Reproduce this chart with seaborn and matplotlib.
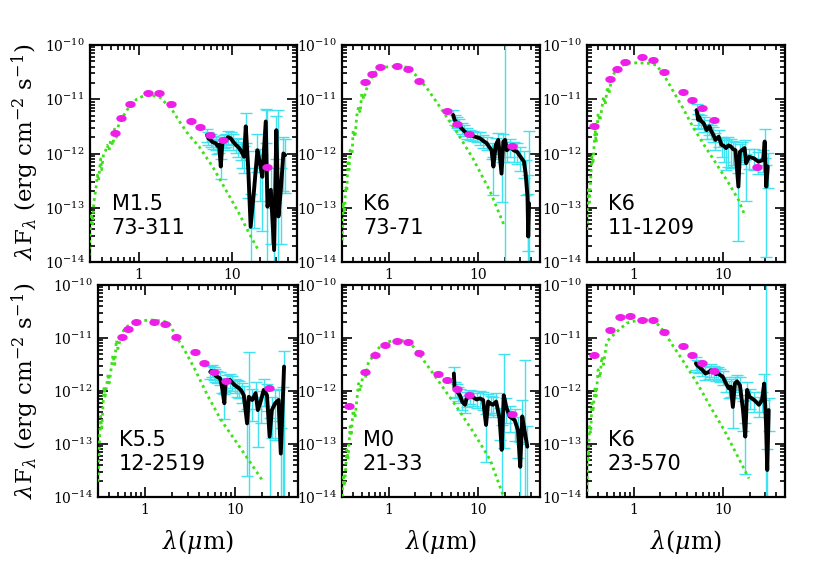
import numpy as np
import matplotlib
matplotlib.use("Agg")
import matplotlib.pyplot as plt
from matplotlib.path import Path
from matplotlib.ticker import LogLocator, NullFormatter, FixedLocator
import seaborn as sns

# ---- photometry wavelengths (micron) and log10 lambda*F_lambda
p1_phot_wl = [0.55, 0.65, 0.80, 1.25, 1.65, 2.2, 3.6, 4.5, 5.8, 8.0, 24.0]
p1_phot_lf = [-11.63, -11.34, -11.09, -10.89, -10.89, -11.09, -11.41, -11.52, -11.65, -11.76, -12.24]
p2_phot_wl = [0.55, 0.65, 0.80, 1.25, 1.65, 2.2, 4.5, 5.8, 8.0, 24.0]
p2_phot_lf = [-10.68, -10.54, -10.40, -10.38, -10.44, -10.66, -11.21, -11.46, -11.64, -11.86]
p3_phot_wl = [0.36, 0.55, 0.65, 0.80, 1.25, 1.65, 2.2, 3.6, 4.5, 5.8, 8.0, 24.0]
p3_phot_lf = [-11.49, -10.63, -10.45, -10.31, -10.23, -10.28, -10.49, -10.87, -11.02, -11.17, -11.38, -12.24]
p4_phot_wl = [0.55, 0.65, 0.80, 1.25, 1.65, 2.2, 3.6, 4.5, 5.8, 8.0, 24.0]
p4_phot_lf = [-10.98, -10.83, -10.70, -10.69, -10.74, -10.99, -11.27, -11.47, -11.65, -11.81, -11.95]
p5_phot_wl = [0.36, 0.55, 0.70, 0.90, 1.25, 1.65, 2.2, 3.6, 4.5, 5.8, 8.0, 24.0]
p5_phot_lf = [-12.28, -11.64, -11.33, -11.13, -11.06, -11.07, -11.29, -11.67, -11.79, -11.97, -12.08, -12.44]
p6_phot_wl = [0.36, 0.55, 0.70, 0.90, 1.25, 1.65, 2.2, 3.6, 4.5, 5.8, 8.0]
p6_phot_lf = [-11.33, -10.85, -10.60, -10.58, -10.66, -10.66, -10.89, -11.15, -11.32, -11.48, -11.62]

# ---- photosphere models (green dotted)
p1_mod_wl = [0.29, 0.30, 0.31, 0.32, 0.33, 0.35, 0.36, 0.37, 0.39, 0.40, 0.42, 0.44, 0.46, 0.48,
             0.50, 0.53, 0.55, 0.58, 0.61, 0.66, 0.72, 0.78, 0.85, 0.95, 1.09, 1.25, 1.39, 1.55,
             1.71, 1.94, 2.29, 2.81, 3.45, 4.43, 6.2, 8.6, 11.9, 15.3, 18.8]
p1_mod_lf = [-14.0, -13.5, -13.1, -13.3, -12.9, -12.6, -12.4, -12.5, -12.1, -12.3, -12.0, -11.95, -11.85, -11.95,
             -11.75, -11.85, -11.55, -11.7, -11.45, -11.35, -11.25, -11.15, -11.08, -11.0, -10.95, -10.92, -10.93, -10.95,
             -10.97, -11.07, -11.2, -11.44, -11.66, -11.87, -12.24, -12.67, -13.1, -13.47, -13.75]
p2_mod_wl = [0.30, 0.31, 0.32, 0.33, 0.34, 0.35, 0.36, 0.37, 0.39, 0.40, 0.42, 0.44, 0.46, 0.48,
             0.50, 0.53, 0.55, 0.59, 0.68, 0.87, 1.23, 1.63, 2.09, 2.7, 3.8, 5.8, 8.9, 13.8, 19.5]
p2_mod_lf = [-13.6, -12.9, -13.1, -12.6, -12.7, -12.12, -12.3, -11.94, -12.0, -11.57, -11.7, -11.3, -11.14, -11.25,
             -10.89, -11.0, -10.86, -10.74, -10.52, -10.41, -10.39, -10.41, -10.58, -10.8, -11.15, -11.6, -12.1, -12.7, -13.3]
p3_mod_wl = [0.30, 0.305, 0.31, 0.32, 0.34, 0.35, 0.37, 0.38, 0.40, 0.42, 0.46, 0.48, 0.51, 0.53,
             0.57, 0.66, 0.84, 1.19, 1.53, 1.8, 2.18, 2.8, 3.6, 4.6, 6.0, 8.4, 11.7, 15.1, 17.9]
p3_mod_lf = [-13.41, -12.9, -12.67, -12.9, -12.06, -12.2, -11.57, -11.8, -11.26, -11.4, -10.95, -11.1, -10.77, -10.9,
             -10.58, -10.43, -10.33, -10.33, -10.34, -10.37, -10.55, -10.86, -11.17, -11.5, -11.81, -12.18, -12.55, -12.86, -13.16]
p4_mod_wl = [0.30, 0.305, 0.31, 0.32, 0.33, 0.35, 0.36, 0.39, 0.40, 0.44, 0.46, 0.48, 0.50, 0.55,
             0.62, 0.74, 0.97, 1.26, 1.64, 1.86, 2.11, 2.75, 3.6, 5.0, 7.0, 9.9, 14.1, 20.0]
p4_mod_lf = [-13.71, -13.3, -13.05, -12.48, -12.7, -11.92, -12.1, -11.67, -11.85, -11.32, -11.5, -11.04, -11.2, -10.91,
             -10.79, -10.71, -10.67, -10.66, -10.69, -10.72, -10.91, -11.23, -11.6, -12.1, -12.55, -12.92, -13.3, -13.68]
p5_mod_wl = [0.30, 0.31, 0.32, 0.34, 0.35, 0.37, 0.38, 0.40, 0.42, 0.46, 0.48, 0.52, 0.55,
             0.59, 0.68, 0.80, 1.0, 1.35, 1.75, 2.1, 2.7, 3.8, 5.8, 8.9, 13.8, 19.5]
p5_mod_lf = [-13.99, -13.62, -13.8, -13.11, -13.3, -12.67, -12.85, -12.36, -12.5, -11.86, -12.0, -11.67, -11.75,
             -11.48, -11.32, -11.16, -11.07, -11.04, -11.09, -11.26, -11.51, -11.86, -12.3, -12.77, -13.3, -13.99]
p6_mod_wl = [0.30, 0.305, 0.31, 0.32, 0.33, 0.34, 0.35, 0.37, 0.38, 0.40, 0.42, 0.44, 0.46, 0.50,
             0.57, 0.68, 0.84, 1.09, 1.41, 1.76, 2.19, 2.8, 3.65, 5.2, 7.3, 10.4, 14.8, 19.7]
p6_mod_lf = [-13.9, -13.11, -13.3, -12.67, -12.8, -12.23, -12.4, -11.92, -12.1, -11.6, -11.75, -11.35, -11.5, -11.07,
             -10.97, -10.85, -10.72, -10.67, -10.66, -10.69, -10.88, -11.16, -11.45, -11.86, -12.3, -12.74, -13.24, -13.65]

# ---- IRS spectra (black) with fractional lower / upper errors (cyan)
p1_irs_wl = [5.4, 5.6, 5.9, 6.2, 6.7, 7.0, 7.3, 7.6, 7.9, 8.2, 8.6, 9.1, 9.7, 10.3, 11.0, 11.7, 12.4, 13.0,
             13.5, 14.1, 15.0, 15.9, 17.3, 18.8, 20.0, 21.2, 23.1, 24.1, 26.2, 28.4, 30.0, 31.6, 33.5, 35.7, 37.3]
p1_irs_lf = [-11.66, -11.72, -11.75, -11.79, -11.81, -11.86, -11.84, -12.24, -11.81, -11.78, -11.75, -11.70,
             -11.72, -11.78, -11.84, -11.88, -11.94, -12.0, -12.06, -11.5, -12.3, -13.35, -12.67, -11.94, -12.18,
             -12.43, -11.41, -12.98, -12.67, -13.78, -11.57, -13.16, -12.67, -12.0, -12.03]
p1_irs_lo = [.25, .25, .25, .25, .25, .3, .3, .4, .25, .25, .25, .25, .25, .3, .3, .35, .35, .45, .5, .5, .7,
             1.0, .8, .6, .8, .9, .6, 1.0, .9, 1.0, .7, 1.0, .9, .8, .8]
p1_irs_hi = [.3, .3, .3, .3, .3, .3, .3, .4, .3, .3, .3, .3, .3, .35, .35, .4, .4, .5, .6, .8, 1.2,
             3.0, 1.5, 1.0, .8, 1.5, .7, 60, 1.5, 5, .8, 90, 1.5, 1.0, 1.0]

p2_irs_wl = [5.3, 5.5, 5.8, 6.1, 6.6, 7.0, 7.5, 8.2, 8.9, 9.7, 10.6, 11.6, 12.6, 14.3, 15.0, 15.9, 17.0, 18.5,
             19.4, 20.3, 21.2, 23.2, 25.3, 27.7, 30.2, 33.0, 34.5, 36.2, 36.9, 37.7]
p2_irs_lf = [-11.29, -11.38, -11.43, -11.47, -11.54, -11.58, -11.63, -11.66, -11.68, -11.70, -11.72, -11.77,
             -11.81, -11.94, -12.24, -11.85, -11.75, -12.37, -11.78, -11.75, -11.94, -11.88, -11.94, -11.97,
             -12.06, -12.15, -12.37, -12.8, -13.53, -12.92]
p2_irs_lo = [.2, .2, .2, .2, .2, .2, .2, .2, .2, .2, .25, .25, .25, .3, .7, .3, .3, .7, .3, 1.0, .4, .35, .4,
             .4, .45, .5, .6, .9, 1.0, 1.0]
p2_irs_hi = [.25, .25, .25, .25, .25, .25, .25, .25, .25, .25, .3, .3, .3, .35, .5, .35, .35, .6, .4, 500, .4,
             .4, .4, .45, .5, .6, .8, 1.5, 5, 21]

p3_irs_wl = [5.1, 5.3, 5.4, 5.7, 6.1, 6.6, 7.1, 7.4, 7.7, 8.3, 9.0, 9.7, 10.3, 10.9, 11.6, 12.3, 13.1, 13.9,
             15.0, 15.6, 16.6, 17.6, 18.3, 19.8, 22.4, 25.2, 28.4, 29.6, 30.8, 32.0]
p3_irs_lf = [-11.2, -11.38, -11.32, -11.40, -11.44, -11.57, -11.5, -11.58, -11.63, -11.75, -11.69, -11.84,
             -11.86, -11.9, -11.85, -11.87, -11.92, -11.94, -12.61, -11.97, -11.93, -11.9, -12.18, -12.06,
             -12.09, -12.15, -12.12, -11.78, -12.61, -12.24]
p3_irs_lo = [.3, .3, .3, .3, .3, .3, .3, .3, .3, .35, .35, .4, .5, .6, .6, .6, .5, .5, .9, .4, .4, .4, .8, .4,
             .4, .4, .4, .5, .95, .6]
p3_irs_hi = [.3, .3, .3, .3, .3, .3, .3, .3, .3, .35, .35, .4, .4, .4, .4, .4, .4, .4, .8, .4, .4, .4, .5, .4,
             .5, .5, .5, .7, 1.5, .8]

p4_irs_wl = [5.3, 5.5, 5.8, 6.0, 6.3, 6.8, 7.1, 7.6, 7.8, 8.2, 8.7, 9.3, 9.9, 10.5, 11.1, 11.8, 12.5, 13.6,
             14.2, 15.5, 16.9, 17.9, 19.2, 20.8, 22.6, 24.2, 25.6, 27.9, 30.4, 32.2, 33.8, 35.0]
p4_irs_lf = [-11.64, -11.62, -11.67, -11.70, -11.73, -11.76, -11.89, -12.23, -11.86, -11.82, -11.79, -11.84,
             -11.89, -11.92, -11.95, -12.0, -12.08, -12.61, -12.11, -12.17, -12.04, -12.36, -12.2, -11.98,
             -12.08, -12.86, -12.36, -12.23, -12.17, -13.18, -12.23, -11.54]
p4_irs_lo = [.25, .25, .25, .25, .25, .25, .3, .5, .3, .3, .3, .3, .3, .35, .35, .4, .5, .9, 1.0, .6, .5, .8,
             .6, .5, .5, .95, .7, .8, .6, 1.0, 1.0, 1.0]
p4_irs_hi = [.3, .3, .3, .3, .3, .3, .3, .5, .3, .3, .3, .3, .3, .35, .4, .4, .5, .9, 6, .6, .6, .8,
             .6, .6, .6, 1.2, .8, .8, .6, 2, 1.0, 1.0]

p5_irs_wl = [5.4, 5.5, 5.8, 6.0, 6.3, 6.7, 7.2, 7.5, 8.2, 8.9, 9.7, 10.6, 11.5, 12.4, 13.1, 14.0, 14.8, 16.1,
             17.6, 18.6, 19.6, 20.9, 22.8, 26.0, 28.3, 30.0, 31.6, 33.5, 36.0]
p5_irs_lf = [-11.67, -11.95, -11.98, -12.03, -12.08, -12.2, -12.26, -12.14, -12.09, -12.12, -12.16, -12.14,
             -12.17, -12.64, -12.2, -12.24, -12.26, -12.2, -12.52, -13.11, -12.08, -12.3, -12.48, -12.55,
             -12.74, -13.43, -12.48, -12.74, -13.05]
p5_irs_lo = [.3, .3, .3, .3, .3, .3, .3, .3, .3, .3, .3, .35, .35, .8, .4, .4, .4, .4, .6, 1.0, .9, .5, .5,
             .6, .7, 1.0, .7, 1.0, .9]
p5_irs_hi = [.3, .3, .3, .3, .3, .3, .3, .3, .3, .3, .3, .4, .4, .6, .4, .4, .4, .45, .6, 2, 5, .5, .6,
             .6, .8, 2, 1.0, 20, 1.5]

p6_irs_wl = [5.0, 5.2, 5.4, 5.9, 6.4, 7.0, 7.4, 7.9, 8.4, 8.9, 9.4, 10.0, 10.9, 11.7, 12.3, 13.0, 13.7, 14.5,
             15.6, 16.9, 17.9, 18.8, 20.0, 22.6, 25.5, 27.6, 29.2, 30.6, 31.6, 32.8]
p6_irs_lf = [-11.48, -11.52, -11.54, -11.6, -11.67, -11.64, -11.61, -11.64, -11.68, -11.67, -11.70, -11.73,
             -11.86, -11.95, -11.92, -12.3, -11.86, -11.82, -11.89, -12.36, -12.86, -11.98, -12.11, -12.17,
             -12.26, -12.17, -11.86, -12.61, -13.49, -12.36]
p6_irs_lo = [.25, .25, .25, .25, .25, .25, .25, .25, .25, .25, .25, .3, .3, .35, .35, .6, .3, .3, .35, .6,
             .8, .35, .4, .4, .4, .4, .5, 1.0, .8, .6]
p6_irs_hi = [.3, .3, .3, .3, .3, .3, .3, .3, .3, .3, .3, .3, .35, .4, .4, .5, .35, .35, .4, .5,
             .8, .4, .4, .4, .4, .4, .5, 1000, 1.5, .7]

labels = ["M1.5\n73-311", "K6\n73-71", "K6\n11-1209", "K5.5\n12-2519", "M0\n21-33", "K6\n23-570"]

# axes boxes in pixels: left, right, top, bottom
boxes = [(90, 297, 45, 262), (342, 540, 45, 262), (587, 785, 45, 262),
         (98, 298, 285, 497), (342, 540, 285, 497), (587, 785, 285, 497)]

panels = [
    (p1_phot_wl, p1_phot_lf, p1_mod_wl, p1_mod_lf, p1_irs_wl, p1_irs_lf, p1_irs_lo, p1_irs_hi),
    (p2_phot_wl, p2_phot_lf, p2_mod_wl, p2_mod_lf, p2_irs_wl, p2_irs_lf, p2_irs_lo, p2_irs_hi),
    (p3_phot_wl, p3_phot_lf, p3_mod_wl, p3_mod_lf, p3_irs_wl, p3_irs_lf, p3_irs_lo, p3_irs_hi),
    (p4_phot_wl, p4_phot_lf, p4_mod_wl, p4_mod_lf, p4_irs_wl, p4_irs_lf, p4_irs_lo, p4_irs_hi),
    (p5_phot_wl, p5_phot_lf, p5_mod_wl, p5_mod_lf, p5_irs_wl, p5_irs_lf, p5_irs_lo, p5_irs_hi),
    (p6_phot_wl, p6_phot_lf, p6_mod_wl, p6_mod_lf, p6_irs_wl, p6_irs_lf, p6_irs_lo, p6_irs_hi),
]

sns.set_style("ticks")
plt.rcParams["font.family"] = ["DejaVu Serif"]
plt.rcParams["mathtext.fontset"] = "dejavuserif"
for key in ["axes.edgecolor", "xtick.color", "ytick.color", "text.color", "axes.labelcolor"]:
    plt.rcParams[key] = "black"

W, H = 830, 586
fig = plt.figure(figsize=(W / 100, H / 100), dpi=100)

t = np.linspace(0, 2 * np.pi, 30)
ellipse = Path(np.column_stack([np.cos(t), 0.62 * np.sin(t)]))

green = "#3ee01a"
magenta = "#ee1ee8"
cyan = "#3fe3ef"

for i, (box, pan, lab) in enumerate(zip(boxes, panels, labels)):
    l, r, tp, bt = box
    ax = fig.add_axes([l / W, 1 - bt / H, (r - l) / W, (bt - tp) / H])
    ax.set_xscale("log")
    ax.set_yscale("log")
    ax.set_xlim(0.3, 50)
    ax.set_ylim(1e-14, 1e-10)

    pw, pf, mw, mf, sw, sf, slo, shi = pan
    pf = 10 ** np.array(pf)
    mf = 10 ** np.array(mf)
    sf = 10 ** np.array(sf)

    ax.errorbar(sw, sf, yerr=[sf * np.array(slo), sf * np.array(shi)], fmt="none",
                ecolor=cyan, elinewidth=1.0, capsize=4, capthick=1.0, zorder=1)
    sns.lineplot(x=sw, y=sf, ax=ax, color="black", lw=2.8, estimator=None, sort=False, zorder=2)
    sns.lineplot(x=mw, y=mf, ax=ax, color=green, lw=2.0, linestyle=(0, (1, 1.3)),
                 estimator=None, sort=False, zorder=3)
    ax.plot(pw, pf, ls="none", marker=ellipse, ms=6.5, color=magenta, mec=magenta, zorder=4)

    ax.text(0.105, 0.11, lab, transform=ax.transAxes, fontsize=15, ha="left", va="bottom",
            linespacing=1.25, family="DejaVu Sans")

    ax.set_xticks([1, 10], ["1", "10"])
    ax.xaxis.set_minor_locator(LogLocator(base=10, subs=np.arange(2, 10)))
    ax.xaxis.set_minor_formatter(NullFormatter())
    ax.yaxis.set_major_locator(FixedLocator([1e-14, 1e-13, 1e-12, 1e-11, 1e-10]))
    ax.yaxis.set_minor_locator(LogLocator(base=10, subs=np.arange(2, 10), numticks=10))
    ax.yaxis.set_minor_formatter(NullFormatter())
    ax.set_xlim(0.3, 50)
    ax.set_ylim(1e-14, 1e-10)
    ax.tick_params(which="both", direction="in", top=True, right=True, width=1.2, labelsize=10)
    ax.tick_params(which="major", length=7, pad=4)
    ax.tick_params(which="minor", length=3.5)
    for sp in ax.spines.values():
        sp.set_linewidth(1.6)
    ax.set_xlabel("")
    ax.set_ylabel("")
    if i >= 3:
        ax.set_xlabel(r"$\lambda$($\mu$m)", fontsize=17, labelpad=8)

ylab = r"$\lambda$F$_\lambda$ (erg cm$^{-2}$ s$^{-1}$)"
fig.text(25 / W, 1 - 152 / H, ylab, rotation=90, ha="center", va="center", fontsize=16.5)
fig.text(25 / W, 1 - 391 / H, ylab, rotation=90, ha="center", va="center", fontsize=16.5)

fig.savefig("out.png", dpi=100)
